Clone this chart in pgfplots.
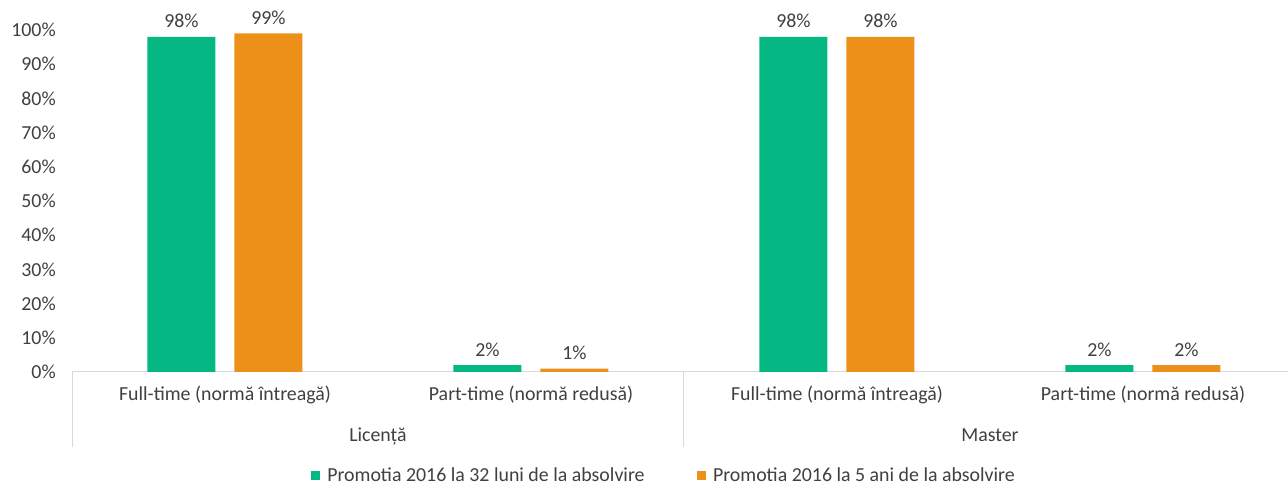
\documentclass[border=0pt]{standalone}
\usepackage{fontspec}
\setmainfont{Carlito}
\usepackage{pgfplots}
\pgfplotsset{compat=1.18}
\definecolor{cgreen}{RGB}{5,184,131}
\definecolor{corange}{RGB}{237,144,26}
\definecolor{ctext}{RGB}{64,64,64}
\definecolor{cline}{RGB}{217,217,217}

\begin{document}
\begin{tikzpicture}
\begin{axis}[
    name=ax,
    scale only axis,
    width=912pt, height=256.5pt,
    at={(54pt,84pt)}, anchor=south west,
    ybar, bar width=51pt, ybar=14.25pt,
    xmin=-0.5, xmax=3.474,
    ymin=0, ymax=100,
    clip=false,
    font=\fontsize{14.9}{17}\selectfont,
    /pgf/number format/assume math mode=true,
    ytick={0,10,...,100},
    yticklabel={\pgfmathprintnumber{\tick}\%},
    yticklabel style={inner sep=0pt, xshift=-12pt, text=ctext},
    xtick={0,1,2,3},
    xticklabels={Full-time (normă întreagă), Part-time (normă redusă), Full-time (normă întreagă), Part-time (normă redusă)},
    xticklabel style={anchor=base, inner sep=0pt, yshift=-21.75pt, text=ctext},
    axis x line*=bottom, axis y line*=left,
    x axis line style={cline, line width=0.75pt},
    y axis line style={draw=none},
    major tick length=0pt,
    nodes near coords={\pgfmathprintnumber{\pgfplotspointmeta}\%},
    every node near coord/.append style={anchor=base, inner sep=0pt, yshift=6.75pt, text=ctext},
    legend columns=2,
    legend style={at={(0.487,-0.302)}, anchor=center, draw=none, text=ctext,
        /tikz/every odd column/.append style={column sep=3.5pt},
        /tikz/every even column/.append style={column sep=37pt}},
]
\addplot[draw=none, fill=cgreen,
    legend image code/.code={\fill[cgreen] (0pt,-3.4pt) rectangle (6.8pt,3.4pt);}]
    coordinates {(0,98) (1,2) (2,98) (3,2)};
\addplot[draw=none, fill=corange,
    legend image code/.code={\fill[corange] (0pt,-3.4pt) rectangle (6.8pt,3.4pt);}]
    coordinates {(0,99) (1,1) (2,98) (3,2)};
\legend{Promotia 2016 la 32 luni de la absolvire, Promotia 2016 la 5 ani de la absolvire}

\draw[cline, line width=0.75pt] (axis cs:-0.5,0) -- ([yshift=-56.25pt]axis cs:-0.5,0);
\draw[cline, line width=0.75pt] (axis cs:1.5,0) -- ([yshift=-56.25pt]axis cs:1.5,0);
\node[anchor=base, inner sep=0pt, text=ctext] at ([yshift=-52.5pt]axis cs:0.5,0) {Licență};
\node[anchor=base, inner sep=0pt, text=ctext] at ([yshift=-52.5pt]axis cs:2.5,0) {Master};
\end{axis}
\pgfresetboundingbox
\path[use as bounding box] (0,0) rectangle (966pt,363pt);
\end{tikzpicture}
\end{document}
